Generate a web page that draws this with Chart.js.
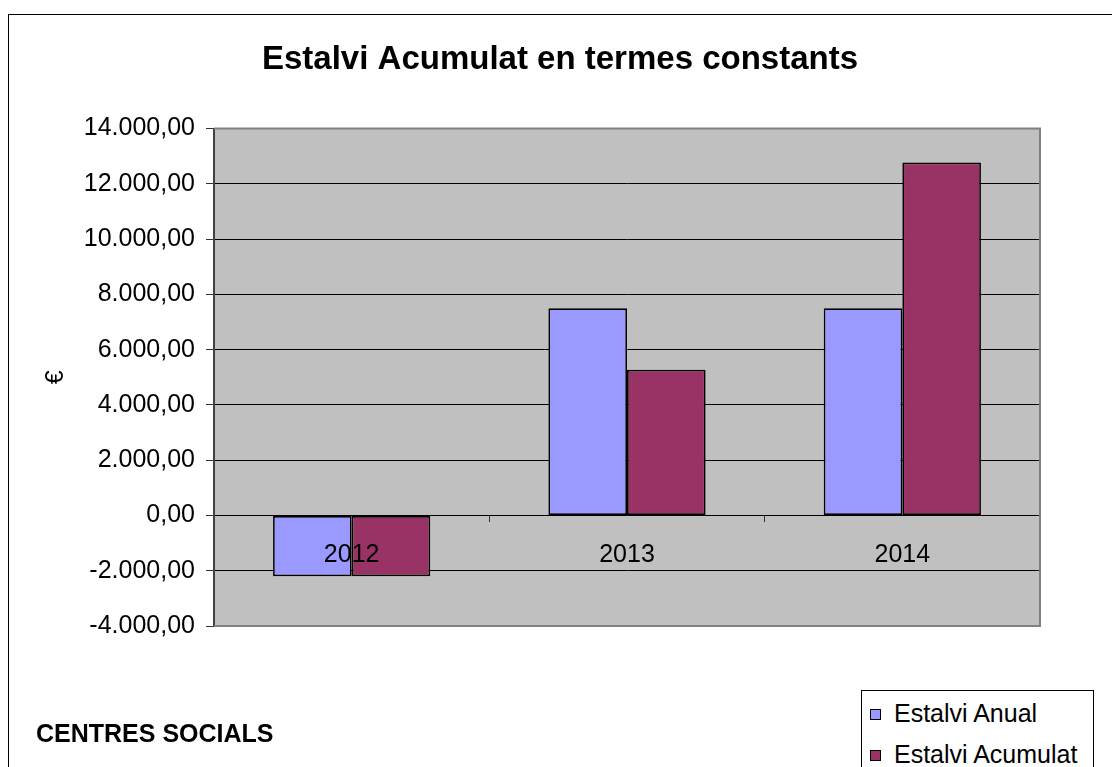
<!DOCTYPE html>
<html>
<head>
<meta charset="utf-8">
<script src="https://cdn.jsdelivr.net/npm/chart.js@4.4.0/dist/chart.umd.min.js"></script>
<style>
    html, body { margin: 0; padding: 0; width: 1112px; height: 767px; overflow: hidden; background: #fff; font-family: Arial, "Liberation Sans", sans-serif; }
    #frame { position: absolute; left: 8px; top: 14px; width: 2000px; height: 2000px; border: 1px solid #000; }
    #wrap { position: absolute; left: 0; top: 0; width: 1112px; height: 767px; }
    #centre { position: absolute; left: 36px; top: 719px; font-weight: bold; font-size: 25px; color: #000; }
    #legend { position: absolute; left: 861px; top: 690px; width: 231px; height: 200px; border: 1px solid #000; background: #fff; }
    #legend .item { position: absolute; left: 8px; font-size: 25px; line-height: 28px; white-space: nowrap; color: #000; }
    #legend .sw { display: inline-block; width: 9px; height: 9px; border: 1px solid #000; margin-right: 13px; vertical-align: 2px; }
</style>
</head>
<body>
<div id="frame"></div>
<div id="wrap"><canvas id="estalviChart"></canvas></div>
<div id="centre">CENTRES SOCIALS</div>
<div id="legend"></div>

<script>
// Estalvi per any (€)
const years = ['2012', '2013', '2014'];
const estalviAnual = [-2200, 7500, 7500];
const estalviAcumulat = [-2200, 5270, 12770];
const yMin = -4000;
const yMax = 14000;
const yStep = 2000;

// 14000 -> "14.000,00"
function formatEuro(v) {
    const parts = Math.abs(v).toFixed(2).split('.');
    const int = parts[0].replace(/\B(?=(\d{3})+(?!\d))/g, '.');
    return (v < 0 ? '-' : '') + int + ',' + parts[1];
}

// Grey plot background plus the light frame on top/right/bottom
const plotArea = {
    id: 'plotArea',
    beforeDraw(chart) {
        const { ctx, chartArea: a } = chart;
        ctx.save();
        ctx.fillStyle = '#C0C0C0';
        ctx.fillRect(a.left, a.top, a.right - a.left, a.bottom - a.top);
        ctx.restore();
    },
    beforeDatasetsDraw(chart) {
        const { ctx, chartArea: a } = chart;
        ctx.save();
        ctx.strokeStyle = '#808080';
        ctx.lineWidth = 2;
        ctx.beginPath();
        ctx.moveTo(a.left, a.top);
        ctx.lineTo(a.right, a.top);
        ctx.lineTo(a.right, a.bottom);
        ctx.lineTo(a.left, a.bottom);
        ctx.stroke();
        ctx.restore();
    }
};

Chart.defaults.font.family = 'Arial, "Liberation Sans", sans-serif';
Chart.defaults.color = '#000';

const chart = new Chart(document.getElementById('estalviChart'), {
    type: 'bar',
    data: {
        labels: years,
        datasets: [{
            label: 'Estalvi Anual',
            data: estalviAnual,
            backgroundColor: '#9999FF',
            borderColor: '#000',
            borderWidth: 1.7,
            borderSkipped: false
        }, {
            label: 'Estalvi Acumulat',
            data: estalviAcumulat,
            backgroundColor: '#993366',
            borderColor: '#000',
            borderWidth: 1.7,
            borderSkipped: false
        }]
    },
    options: {
        responsive: true,
        maintainAspectRatio: false,
        animation: false,
        events: [],
        datasets: {
            bar: { categoryPercentage: 0.571, barPercentage: 1.0 }
        },
        layout: {
            padding: { left: 80, right: 72, top: 0, bottom: 141 }
        },
        plugins: {
            legend: { display: false },
            tooltip: { enabled: false },
            title: {
                display: true,
                text: 'Estalvi Acumulat en termes constants',
                font: { size: 33, weight: 'bold' },
                padding: { top: 40, bottom: 49 }
            }
        },
        scales: {
            x: {
                position: { y: 0 },
                afterFit: s => { s.height = 0; },
                grid: {
                    offset: true,
                    drawOnChartArea: false,
                    drawTicks: true,
                    tickLength: 7,
                    tickColor: '#333'
                },
                border: { display: false },
                // year labels sit on top of the negative bars
                ticks: { z: 1, font: { size: 25 }, padding: 18, maxRotation: 0 }
            },
            y: {
                min: yMin,
                max: yMax,
                afterFit: s => { s.width = 134; },
                grid: {
                    color: '#000',
                    lineWidth: 1,
                    tickLength: 8,
                    tickColor: '#333'
                },
                border: { color: '#404040', width: 2 },
                ticks: {
                    stepSize: yStep,
                    padding: 11,
                    font: { size: 25 },
                    callback: v => formatEuro(v)
                },
                title: {
                    display: true,
                    text: '€',
                    font: { size: 25 },
                    // pull the € label out into the left margin
                    padding: { top: -39, bottom: 0 }
                }
            }
        }
    },
    plugins: [plotArea]
});

// Legend box under the plot, built from the chart's own datasets
const legendBox = document.getElementById('legend');
chart.options.plugins.legend.labels.generateLabels(chart).forEach((item, i) => {
    const row = document.createElement('div');
    row.className = 'item';
    row.style.top = (8 + i * 41) + 'px';
    row.innerHTML = '<span class="sw" style="background:' + item.fillStyle + '"></span>' + item.text;
    legendBox.appendChild(row);
});
</script>
</body>
</html>
